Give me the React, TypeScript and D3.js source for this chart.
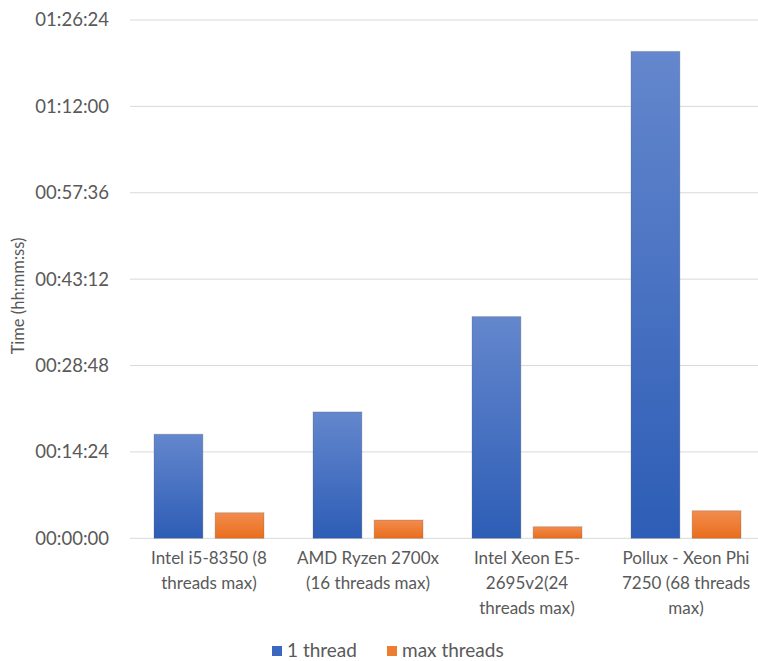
import React, { useEffect, useRef } from 'react';
import * as d3 from 'd3';

// times in seconds
const categories = ['i5', 'ryzen', 'xeon', 'pollux'];
const categoryLines = [
  ['Intel i5-8350 (8', 'threads max)'],
  ['AMD Ryzen 2700x', '(16 threads max)'],
  ['Intel Xeon E5-', '2695v2(24', 'threads max)'],
  ['Pollux - Xeon Phi', '7250 (68 threads', 'max)'],
];
const seriesNames = ['1 thread', 'max threads'];
const oneThread = [1041, 1264, 2218, 4870];
const maxThreads = [256, 183, 116, 276];
const yTicks = [0, 864, 1728, 2592, 3456, 4320, 5184];

const W = 758;
const H = 661;
const FONT = 'Lato, "Open Sans", sans-serif';
const TEXT = '#595959';

function hms(s: number) {
  const h = Math.floor(s / 3600);
  const m = Math.floor((s % 3600) / 60);
  const sec = s % 60;
  const p = (n: number) => String(n).padStart(2, '0');
  return p(h) + ':' + p(m) + ':' + p(sec);
}

export default function App() {
  const ref = useRef<SVGSVGElement>(null);

  useEffect(() => {
    const svg = d3.select(ref.current);
    svg.selectAll('*').remove();

    const y = d3.scaleLinear().domain([0, 5184]).range([538.3, 20]);
    const x0 = d3.scaleBand().domain(categories).range([129.5, 765.5]);
    const x1 = d3.scaleBand().domain(seriesNames).range([24.5, 134.5]).paddingInner(0.2);

    const defs = svg.append('defs');
    const grads = [
      { id: 'gBlue', top: '#6487cd', bottom: '#2d5db6' },
      { id: 'gOrange', top: '#f28c4e', bottom: '#e96e1c' },
    ];
    grads.forEach((g) => {
      const lg = defs.append('linearGradient').attr('id', g.id)
        .attr('x1', 0).attr('y1', 0).attr('x2', 0).attr('y2', 1);
      lg.append('stop').attr('offset', '0%').attr('stop-color', g.top);
      lg.append('stop').attr('offset', '100%').attr('stop-color', g.bottom);
    });
    const fills = ['url(#gBlue)', 'url(#gOrange)'];
    const legendColors = ['#3a67c0', '#ed7d31'];

    // gridlines
    svg.append('g').selectAll('line').data(yTicks).enter().append('line')
      .attr('x1', 130).attr('x2', W)
      .attr('y1', (d) => y(d)).attr('y2', (d) => y(d))
      .attr('stroke', '#d9d9d9').attr('stroke-width', 1);

    // y tick labels
    svg.append('g').selectAll('text').data(yTicks).enter().append('text')
      .attr('x', 109).attr('y', (d) => y(d))
      .attr('dy', '0.35em')
      .attr('text-anchor', 'end')
      .attr('font-family', FONT).attr('font-size', 18.5)
      .attr('fill', TEXT)
      .text((d) => hms(d));

    // axis title
    svg.append('text')
      .attr('transform', 'translate(24,296) rotate(-90)')
      .attr('text-anchor', 'middle')
      .attr('font-family', FONT).attr('font-size', 16.5)
      .attr('fill', TEXT)
      .text('Time (hh:mm:ss)');

    // bars
    const series = [oneThread, maxThreads];
    const groups = svg.append('g').selectAll('g').data(categories).enter().append('g')
      .attr('transform', (d) => 'translate(' + x0(d) + ',0)');
    groups.selectAll('rect')
      .data((d, i) => series.map((s, k) => ({ name: seriesNames[k], value: s[i], k })))
      .enter().append('rect')
      .attr('x', (d) => x1(d.name) as number)
      .attr('width', x1.bandwidth())
      .attr('y', (d) => y(d.value))
      .attr('height', (d) => y(0) - y(d.value))
      .attr('fill', (d) => fills[d.k])
      .attr('stroke', 'rgba(90,90,90,0.25)')
      .attr('stroke-width', 1);

    // x labels
    const xl = svg.append('g').selectAll('text').data(categories).enter().append('text')
      .attr('text-anchor', 'middle')
      .attr('font-family', FONT).attr('font-size', 17)
      .attr('fill', TEXT);
    xl.each(function (d, i) {
      const t = d3.select(this);
      const cx = (x0(d) as number) + x0.bandwidth() / 2;
      categoryLines[i].forEach((line, j) => {
        t.append('tspan').attr('x', cx).attr('y', 564 + j * 25).text(line);
      });
    });

    // legend
    const legend = svg.append('g');
    const lx = [272, 387];
    seriesNames.forEach((n, k) => {
      legend.append('rect').attr('x', lx[k]).attr('y', 646).attr('width', 10).attr('height', 10)
        .attr('fill', legendColors[k]);
      legend.append('text').attr('x', lx[k] + 15).attr('y', 657)
        .attr('font-family', FONT).attr('font-size', 19).attr('fill', TEXT)
        .text(n);
    });
  }, []);

  return (
    <svg ref={ref} width={W} height={H}
      style={{ position: 'absolute', left: 0, top: 0, background: '#fff' }} />
  );
}
